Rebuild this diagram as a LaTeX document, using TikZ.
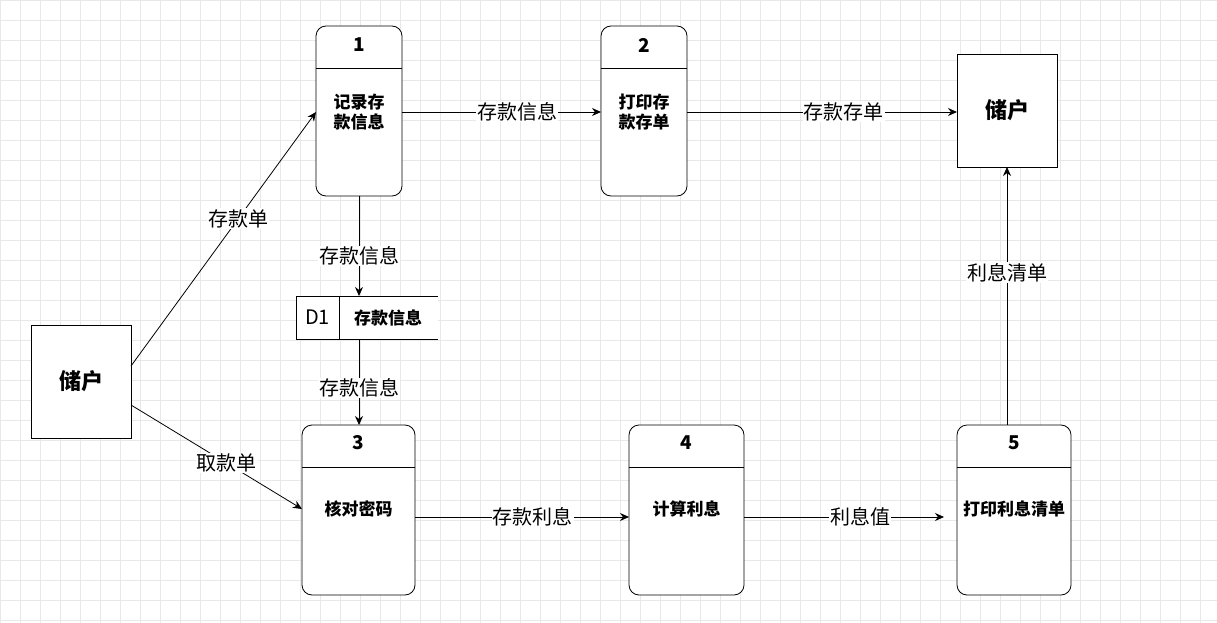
\documentclass[tikz,border=0pt]{standalone}
\usepackage{fontspec}
\setmainfont{Noto Sans CJK SC}
\usetikzlibrary{arrows.meta}
\begin{document}
\begin{tikzpicture}[x=1pt,y=-1pt,
 proc/.style={draw,thick,rounded corners=10pt},
 ent/.style={draw,thick,fill=white},
 arr/.style={-{Stealth[length=9pt,width=8pt]},thick},
 lab/.style={fill=white,inner sep=1pt,font=\fontsize{20}{22}\selectfont},
 bt/.style={font=\bfseries\fontsize{17}{20}\selectfont,align=center},
 num/.style={font=\bfseries\fontsize{19}{21}\selectfont}]
\fill[white] (0,0) rectangle (1217,623);
\useasboundingbox (0,0) rectangle (1217,623);
\foreach \i in {0,20,...,1210}{\draw[black!9] (\i,0) -- (\i,623);}
\foreach \j in {0,20,...,620}{\draw[black!9] (0,\j) -- (1217,\j);}
% processes
\foreach \xa/\xb/\ya/\yb/\yh in {316/402/26/196/68,601/687/26/196/68,302/415/425/595/467,629/744/425/595/467,957/1071/425/595/467}{
 \draw[proc,fill=white] (\xa,\ya) rectangle (\xb,\yb);
 \draw[thick] (\xa,\yh) -- (\xb,\yh);
}
\node[bt] (p1) at (359,112) {记录存\\款信息};
\node[bt] (p2) at (644,112) {打印存\\款存单};
\node[bt] (p3) at (358.5,509) {核对密码};
\node[bt] (p4) at (686.5,509) {计算利息};
\node[bt] (p5) at (1014,509) {打印利息清单};
\node[num] (n1) at (359,45) {1};
\node[num] (n2) at (644,45) {2};
\node[num] (n3) at (358.5,443) {3};
\node[num] (n4) at (686.5,443) {4};
\node[num] (n5) at (1014,443) {5};
% entities
\draw[ent] (957,54) rectangle (1057,167);
\node[font=\bfseries\fontsize{22}{24}\selectfont] (cr) at (1007,110) {储户};
\draw[ent] (31,325) rectangle (131,438);
\node[font=\bfseries\fontsize{22}{24}\selectfont] (cl) at (81,381) {储户};
% data store
\fill[white] (296,296) rectangle (438,339);
\draw[thick] (438,296) -- (296,296) -- (296,339) -- (438,339);
\draw[thick] (339,296) -- (339,339);
\node[font=\fontsize{20}{22}\selectfont] (d1) at (317.5,317.5) {D1};
\node[bt] (ds) at (388,317.5) {存款信息};
% coordinates
\coordinate (a1) at (131,366); \coordinate (a1e) at (316,112);
\coordinate (a2) at (131,405); \coordinate (a2e) at (302,509);
\coordinate (b1) at (402,112); \coordinate (b1e) at (601,112);
\coordinate (b2) at (687,112); \coordinate (b2e) at (957,112);
\coordinate (c1) at (359,196); \coordinate (c1e) at (359,296);
\coordinate (c2) at (359,339); \coordinate (c2e) at (359,425);
\coordinate (e1) at (415,517); \coordinate (e1e) at (629,517);
\coordinate (e2) at (744,517); \coordinate (e2e) at (944,517);
\coordinate (f1) at (1007,425); \coordinate (f1e) at (1007,167);
\draw[arr] (a1) -- node[lab,pos=0.58]{存款单} (a1e);
\draw[arr] (a2) -- node[lab,pos=0.56]{取款单} (a2e);
\draw[arr] (b1) -- node[lab,pos=0.58]{存款信息} (b1e);
\draw[arr] (b2) -- node[lab,pos=0.58]{存款存单} (b2e);
\draw[arr] (c1) -- node[lab,pos=0.6]{存款信息} (c1e);
\draw[arr] (c2) -- node[lab,pos=0.57]{存款信息} (c2e);
\draw[arr] (e1) -- node[lab,pos=0.55]{存款利息} (e1e);
\draw[arr] (e2) -- node[lab,pos=0.58]{利息值} (e2e);
\draw[arr] (f1) -- node[lab,pos=0.59]{利息清单} (f1e);
\end{tikzpicture}
\end{document}
